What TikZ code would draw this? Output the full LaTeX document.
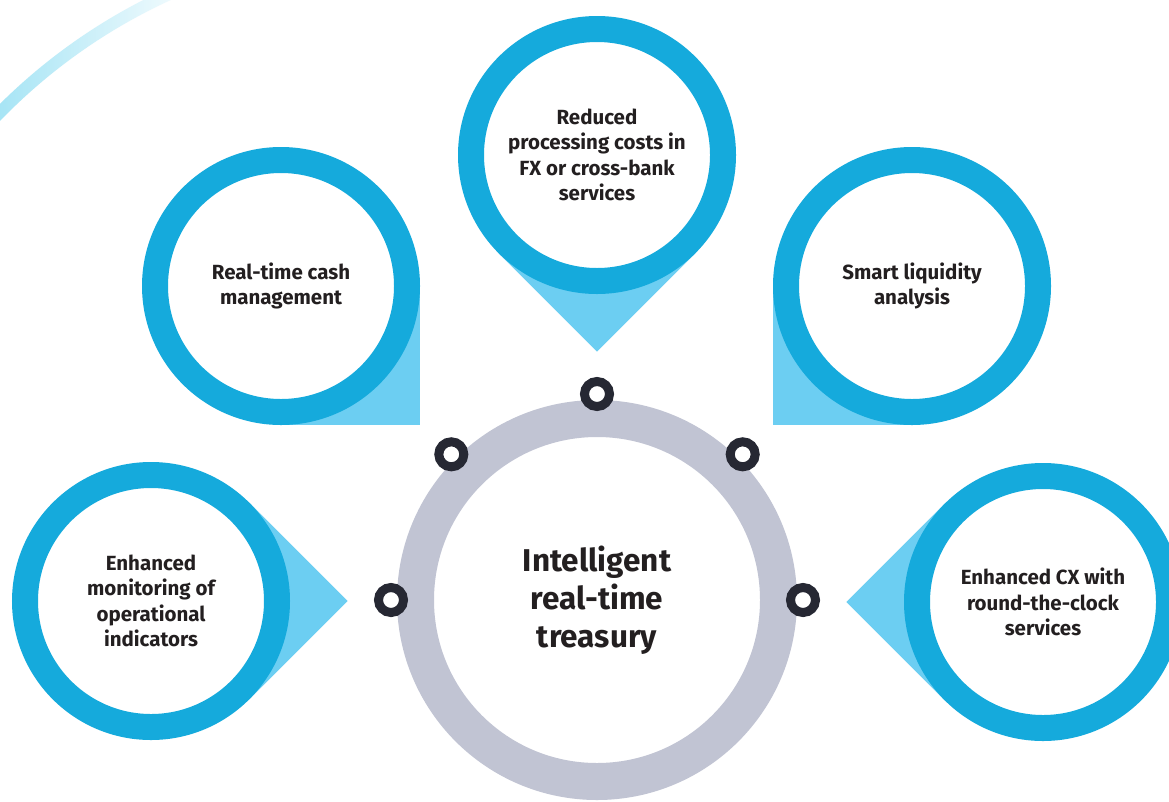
\documentclass[tikz,border=0pt]{standalone}
\usepackage{fontspec}
\setmainfont{Fira Sans}
\usetikzlibrary{calc}
\definecolor{ringblue}{HTML}{15AADC}
\definecolor{lightblue}{HTML}{6CCEF2}
\definecolor{grayring}{HTML}{C1C4D3}
\definecolor{dotdark}{HTML}{262833}
\definecolor{txt}{HTML}{231F20}
\definecolor{arccyan}{HTML}{9EE2F4}
\tikzset{
  bubble/.style={circle, draw=ringblue, line width=26pt, fill=white, minimum size=252pt, inner sep=0pt,
    text=txt, align=center, font=\bfseries\fontsize{20.5}{25.5}\selectfont},
  pointer/.style={fill=lightblue},
  core/.style={circle, draw=grayring, line width=37pt, fill=white, minimum size=363pt, inner sep=0pt,
    text=txt, align=center, font=\bfseries\fontsize{31.5}{38}\selectfont},
  dotring/.style={circle, draw=dotdark, line width=9pt, fill=white, minimum size=25pt, inner sep=0pt}
}
\begin{document}
\begin{tikzpicture}[x=1pt,y=-1pt]
\useasboundingbox (0,0) rectangle (1169,801);
\clip (0,0) rectangle (1169,801);
\fill[white] (0,0) rectangle (1169,801);
% decorative arc
\shade[left color=arccyan, right color=white]
  ($(405,512)+(-138:575)$) arc[start angle=-138, end angle=-110, radius=575]
  -- ($(405,512)+(-110:563)$) arc[start angle=-110, end angle=-138, radius=563] -- cycle;
% centres
\coordinate (ctop) at (597,155);
\coordinate (ccash) at (281,286);
\coordinate (cliq) at (912,286);
\coordinate (cmon) at (151,601);
\coordinate (ccx) at (1043,602);
% pointers
\fill[pointer] (ctop) -- ($(ctop)+(-98.3,98.3)$) -- ($(ctop)+(0,196.6)$) -- ($(ctop)+(98.3,98.3)$) -- cycle;
\fill[pointer] (ccash) rectangle ($(ccash)+(139,139)$);
\fill[pointer] (cliq) rectangle ($(cliq)+(-139,139)$);
\fill[pointer] (cmon) -- ($(cmon)+(98.3,-98.3)$) -- ($(cmon)+(196.6,0)$) -- ($(cmon)+(98.3,98.3)$) -- cycle;
\fill[pointer] (ccx) -- ($(ccx)+(-98.3,-98.3)$) -- ($(ccx)+(-196.6,0)$) -- ($(ccx)+(-98.3,98.3)$) -- cycle;
% bubbles
\node[bubble] (top) at (ctop) {Reduced\\processing costs in\\FX or cross-bank\\services};
\node[bubble] (cash) at (ccash) {Real-time cash\\management};
\node[bubble] (liq) at (cliq) {Smart liquidity\\analysis};
\node[bubble] (mon) at (cmon) {Enhanced\\monitoring of\\operational\\indicators};
\node[bubble] (cx) at (ccx) {Enhanced CX with\\round-the-clock\\services};
% core
\node[core] (hub) at (597,600) {Intelligent\\real-time\\treasury};
% dots
\node[dotring] (d1) at ($(hub)+(0,-206)$) {};
\node[dotring] (d2) at ($(hub)+(-145.7,-145.7)$) {};
\node[dotring] (d3) at ($(hub)+(145.7,-145.7)$) {};
\node[dotring] (d4) at ($(hub)+(-206,0)$) {};
\node[dotring] (d5) at ($(hub)+(206,0)$) {};
\end{tikzpicture}
\end{document}
